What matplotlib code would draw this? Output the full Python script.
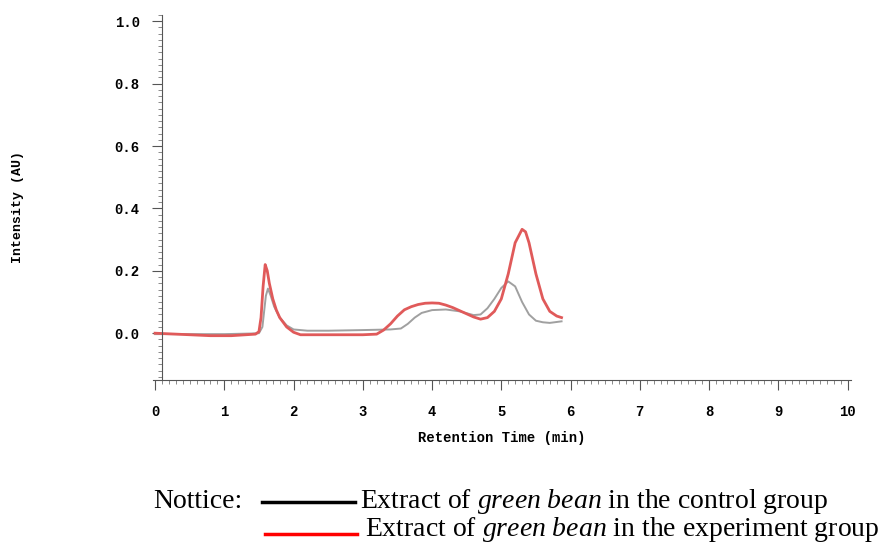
import matplotlib
matplotlib.use('Agg')
import matplotlib.pyplot as plt
from matplotlib.lines import Line2D
from matplotlib.ticker import MultipleLocator

# 数据：色谱曲线
control_time = [0.0, 0.4, 0.8, 1.0, 1.2, 1.4, 1.5, 1.55, 1.6, 1.63, 1.67, 1.72, 1.8, 1.9, 2.0,
                2.2, 2.5, 3.0, 3.4, 3.55, 3.65, 3.75, 3.85, 4.0, 4.2, 4.4, 4.6, 4.7, 4.8,
                4.9, 5.0, 5.1, 5.2, 5.3, 5.4, 5.5, 5.6, 5.7, 5.87]
control_intensity = [-0.003, -0.003, -0.003, -0.003, -0.002, -0.001, 0.0, 0.02, 0.12, 0.143, 0.12, 0.085,
                     0.05, 0.025, 0.012, 0.008, 0.008, 0.01, 0.012, 0.015, 0.03, 0.05, 0.065, 0.074,
                     0.076, 0.07, 0.058, 0.06, 0.08, 0.11, 0.145, 0.166, 0.15, 0.1, 0.06, 0.04,
                     0.035, 0.033, 0.038]

exp_time = [0.0, 0.2, 0.5, 0.8, 1.1, 1.45, 1.5, 1.53, 1.56, 1.59, 1.62, 1.65, 1.7, 1.75, 1.8, 1.9,
            2.0, 2.1, 2.5, 3.0, 3.2, 3.3, 3.4, 3.5, 3.6, 3.7, 3.8, 3.9, 4.0, 4.1, 4.2, 4.3, 4.4,
            4.5, 4.6, 4.7, 4.8, 4.9, 5.0, 5.1, 5.2, 5.3, 5.35, 5.4, 5.5, 5.6, 5.7, 5.8, 5.87]
exp_intensity = [0.0, -0.002, -0.005, -0.008, -0.008, -0.003, 0.005, 0.05, 0.15, 0.22, 0.2, 0.16,
                 0.11, 0.075, 0.05, 0.02, 0.003, -0.005, -0.005, -0.005, -0.003, 0.01, 0.03, 0.055,
                 0.075, 0.085, 0.092, 0.096, 0.097, 0.096, 0.09, 0.082, 0.072, 0.062, 0.052, 0.045,
                 0.05, 0.07, 0.11, 0.19, 0.29, 0.333, 0.325, 0.29, 0.19, 0.11, 0.07, 0.055, 0.05]

x_ticks = [0, 1, 2, 3, 4, 5, 6, 7, 8, 9, 10]
y_ticks = [0.0, 0.2, 0.4, 0.6, 0.8, 1.0]

plt.rcParams['mathtext.fontset'] = 'custom'
plt.rcParams['mathtext.rm'] = 'Liberation Serif'
plt.rcParams['mathtext.it'] = 'Liberation Serif:italic'

fig = plt.figure(figsize=(8.84, 5.48), dpi=100)
ax = fig.add_axes([153 / 884, 0.3066, 698 / 884, 0.666])

ax.plot(control_time, control_intensity, color='#a0a0a0', lw=1.4)
ax.plot(exp_time, exp_intensity, color='#e05a5a', lw=2.0)

ax.set_xlim(-0.03, 10.05)
ax.set_ylim(-0.15, 1.02)

for s in ['top', 'right']:
    ax.spines[s].set_visible(False)
ax.spines['left'].set_position(('data', 0.1))
ax.spines['left'].set_color('#555555')
ax.spines['bottom'].set_color('#555555')

mono = {'family': 'Liberation Mono', 'weight': 'bold', 'size': 10}
ax.set_xticks(x_ticks)
ax.set_xticklabels([str(t) for t in x_ticks], fontdict=mono)
ax.set_yticks(y_ticks)
ax.set_yticklabels(['%.1f' % t for t in y_ticks], fontdict=mono)
ax.xaxis.set_minor_locator(MultipleLocator(0.1))
ax.yaxis.set_minor_locator(MultipleLocator(0.02))
ax.tick_params(which='major', length=7, width=0.8, color='#555555')
ax.tick_params(which='minor', length=3, width=0.6, color='#777777')
ax.tick_params(axis='x', pad=11)
ax.tick_params(axis='y', pad=9)

ax.set_xlabel('Retention Time (min)', fontdict=mono, labelpad=9)
fig.text(18 / 884, 1 - 207 / 548, 'Intensity (AU)', rotation=90, ha='center', va='center',
         family='Liberation Mono', weight='bold', size=9.5)

# 图例说明
serif = {'family': 'Liberation Serif', 'size': 20}
fig.text(153 / 884, 1 - 502 / 548, 'Nottice:', ha='left', va='center', **serif)
fig.add_artist(Line2D([262 / 884, 355 / 884], [1 - 502 / 548] * 2, color='black', lw=2.5))
fig.text(360 / 884, 1 - 502 / 548, r'Extract of $\it{green\ bean}$ in the control group',
         ha='left', va='center', **serif)
fig.add_artist(Line2D([265 / 884, 357 / 884], [1 - 534 / 548] * 2, color='red', lw=2.5))
fig.text(365 / 884, 1 - 530 / 548, r'Extract of $\it{green\ bean}$ in the experiment group',
         ha='left', va='center', **serif)

plt.savefig('out.png')
